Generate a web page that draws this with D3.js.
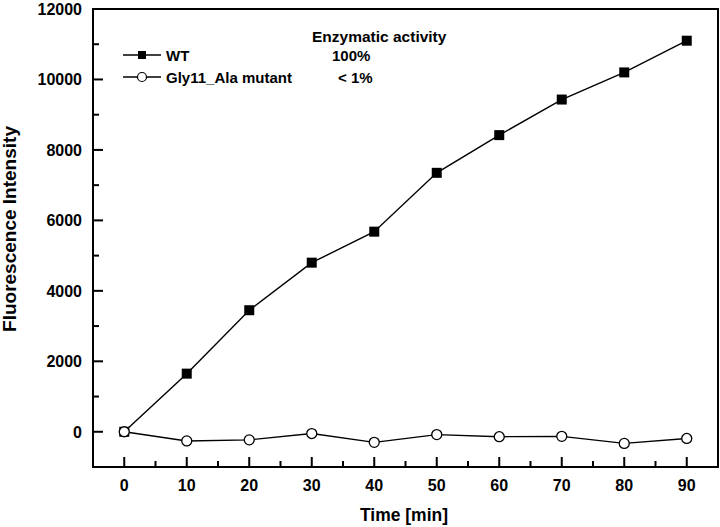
<!DOCTYPE html>
<html><head><meta charset="utf-8">
<script src="https://cdn.jsdelivr.net/npm/d3@7"></script>
<style>body{margin:0;background:#fff}svg{display:block}text{font-family:"Liberation Sans",Arial,sans-serif;font-weight:bold;fill:#000}</style>
</head><body>
<script>
const times = [0,10,20,30,40,50,60,70,80,90];
const wtValues = [0,1650,3450,4800,5680,7350,8420,9430,10200,11100];
const mutantValues = [0,-260,-230,-50,-300,-80,-140,-130,-330,-190];
const seriesNames = ["WT","Gly11_Ala mutant"];
const activityLabels = ["100%","< 1%"];
const activityTitle = "Enzymatic activity";
const xTicks = [0,10,20,30,40,50,60,70,80,90];
const yTicks = [0,2000,4000,6000,8000,10000,12000];
const xTitle = "Time [min]";
const yTitle = "Fluorescence Intensity";

const W=720,H=527, L=93,R=718,T=9,B=467;
const svg=d3.select("body").append("svg").attr("width",W).attr("height",H);
const x=d3.scaleLinear().domain([-5,95]).range([L,R]);
const y=d3.scaleLinear().domain([-1000,12000]).range([B,T]);

// minor ticks
const xMinor=d3.range(5,95,10);
const yMinor=d3.range(1000,12000,2000);
const g=svg.append("g");
g.selectAll(".xmaj").data(xTicks).join("line").attr("x1",d=>x(d)).attr("x2",d=>x(d)).attr("y1",B).attr("y2",B-10).attr("stroke","#000").attr("stroke-width",2);
g.selectAll(".xmin").data(xMinor).join("line").attr("x1",d=>x(d)).attr("x2",d=>x(d)).attr("y1",B).attr("y2",B-6).attr("stroke","#000").attr("stroke-width",2);
g.selectAll(".ymaj").data(yTicks).join("line").attr("x1",L).attr("x2",L+10).attr("y1",d=>y(d)).attr("y2",d=>y(d)).attr("stroke","#000").attr("stroke-width",2);
g.selectAll(".ymin").data(yMinor).join("line").attr("x1",L).attr("x2",L+6).attr("y1",d=>y(d)).attr("y2",d=>y(d)).attr("stroke","#000").attr("stroke-width",2);

// labels
svg.selectAll(".xl").data(xTicks).join("text").attr("x",d=>x(d)).attr("y",491).attr("text-anchor","middle").attr("font-size",16).text(d=>d);
svg.selectAll(".yl").data(yTicks).join("text").attr("x",82).attr("y",d=>y(d)+6).attr("text-anchor","end").attr("font-size",16).text(d=>d);

svg.append("text").attr("x",404).attr("y",521).attr("text-anchor","middle").attr("font-size",17.5).text(xTitle);
svg.append("text").attr("transform","translate(16,229) rotate(-90)").attr("text-anchor","middle").attr("font-size",19).text(yTitle);

// lines
const line=d3.line().x((d,i)=>x(times[i])).y(d=>y(d));
svg.append("path").attr("d",line(wtValues)).attr("fill","none").attr("stroke","#000").attr("stroke-width",1.4);
svg.append("path").attr("d",line(mutantValues)).attr("fill","none").attr("stroke","#000").attr("stroke-width",1.4);
svg.selectAll(".wt").data(wtValues).join("rect").attr("x",(d,i)=>x(times[i])-5).attr("y",d=>y(d)-5).attr("width",10).attr("height",10).attr("fill","#000");
svg.selectAll(".mu").data(mutantValues).join("circle").attr("cx",(d,i)=>x(times[i])).attr("cy",d=>y(d)).attr("r",5).attr("fill","#fff").attr("stroke","#000").attr("stroke-width",1.3);

// frame
svg.append("rect").attr("x",L).attr("y",T).attr("width",R-L).attr("height",B-T).attr("fill","none").attr("stroke","#000").attr("stroke-width",2);

// legend
const rows=[55,77];
rows.forEach((ry,i)=>{
  svg.append("line").attr("x1",123).attr("x2",161).attr("y1",ry).attr("y2",ry).attr("stroke","#000").attr("stroke-width",1.4);
  if(i===0) svg.append("rect").attr("x",138).attr("y",ry-4).attr("width",8).attr("height",8).attr("fill","#000");
  else svg.append("circle").attr("cx",142).attr("cy",ry).attr("r",4.5).attr("fill","#fff").attr("stroke","#000").attr("stroke-width",1.2);
  svg.append("text").attr("x",166).attr("y",ry+5.5).attr("font-size",15).text(seriesNames[i]);
  svg.append("text").attr("x",i===0?332:338).attr("y",ry+5.5).attr("font-size",15).text(activityLabels[i]);
});
svg.append("text").attr("x",312).attr("y",41.5).attr("font-size",15.5).text(activityTitle);
</script>
</body></html>
